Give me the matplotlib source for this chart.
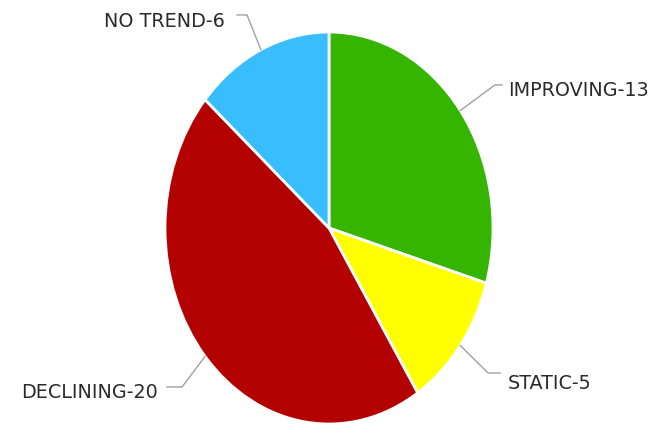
import numpy as np
import matplotlib.pyplot as plt

labels = ["IMPROVING", "STATIC", "DECLINING", "NO TREND"]
values = [13, 5, 20, 6]
colors = ["#35b500", "#ffff00", "#b30000", "#38bdff"]

# leader lines: elbow, end of horizontal stub, text anchor (ellipse-normalised coords)
leaders = [
    ((1.012, 0.730), (1.055, 0.730), (1.091, 0.704), "left"),
    ((0.970, -0.740), (1.043, -0.740), (1.091, -0.791), "left"),
    ((-0.896, -0.811), (-0.988, -0.811), (-1.043, -0.837), "right"),
    ((-0.500, 1.087), (-0.561, 1.087), (-0.634, 1.056), "right"),
]

fig = plt.figure(figsize=(6.55, 4.25), dpi=100)
W, H = 655, 425
cx, cy, rx, ry = 329, 228, 164, 196
ax = fig.add_axes([(cx - rx) / W, (H - cy - ry) / H, 2 * rx / W, 2 * ry / H])

wedges, _ = ax.pie(values, colors=colors, startangle=90, counterclock=False,
                   radius=1.0, wedgeprops=dict(edgecolor="white", linewidth=2))
ax.set_aspect("auto")
ax.set_xlim(-1, 1)
ax.set_ylim(-1, 1)
ax.axis("off")

for w, lab, val, (elbow, end, txt, ha) in zip(wedges, labels, values, leaders):
    mid = np.deg2rad((w.theta1 + w.theta2) / 2)
    ex, ey = np.cos(mid), np.sin(mid)
    ax.plot([ex, elbow[0], end[0]], [ey, elbow[1], end[1]],
            color="#a0a0a0", lw=1, clip_on=False)
    ax.text(txt[0], txt[1], f"{lab}-{val}", ha=ha, va="center",
            fontsize=13.8, color="#2a2a2a", clip_on=False)

fig.savefig("out.png", dpi=100)
